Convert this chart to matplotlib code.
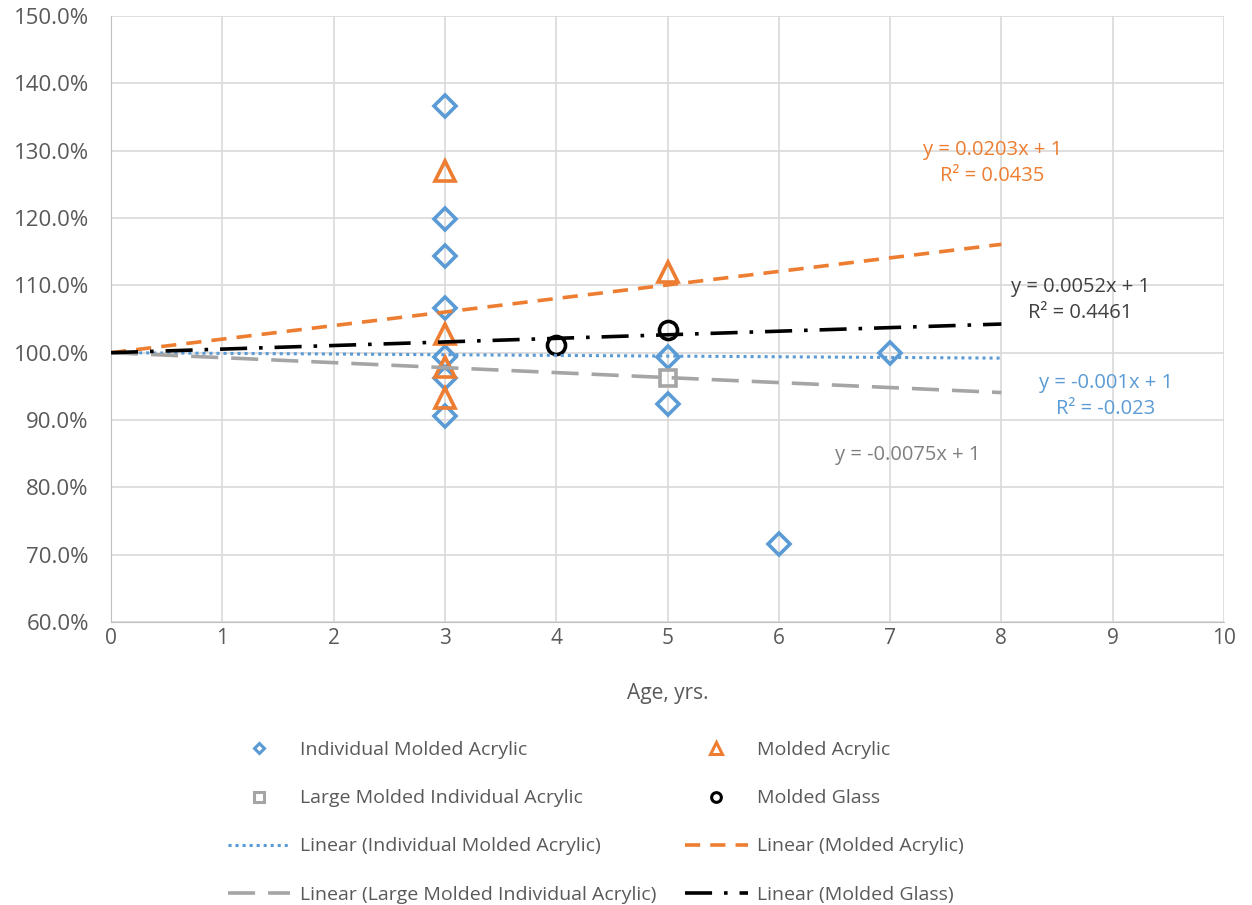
"""Relative value vs age scatter with forced-intercept linear trendlines."""
import numpy as np
import matplotlib
matplotlib.use("Agg")
import matplotlib.pyplot as plt
from matplotlib.lines import Line2D
from matplotlib.ticker import PercentFormatter

plt.rcParams["font.family"] = ["Open Sans", "DejaVu Sans"]

# Data (age in years, value as fraction of original)
ima_age = [3, 3, 3, 3, 3, 3, 3, 5, 5, 6, 7]
ima_val = [1.367, 1.199, 1.143, 1.066, 0.994, 0.963, 0.906, 0.994, 0.924, 0.716, 1.000]

ma_age = [3, 3, 3, 3, 5]
ma_val = [1.270, 1.027, 0.979, 0.933, 1.120]

lmia_age = [5]
lmia_val = [0.963]

mg_age = [4, 5]
mg_val = [1.012, 1.034]

trend_x = [0, 8]

TEXT = "#595959"
BLUE = "#5B9BD5"
ORANGE = "#ED7D31"
GRAY = "#A5A5A5"
BLACK = "#000000"

STY_BLUE = (0, (1, 1.3))
STY_ORANGE = (0, (4.2, 2.8))
STY_GRAY = (0, (7.5, 3.6))
STY_BLACK = (0, (7.5, 3.3, 1, 3.3))


def slope_fixed_intercept(x, y, b=1.0):
    """Least squares slope with the intercept held at b (Excel 'set intercept')."""
    x = np.asarray(x, float)
    y = np.asarray(y, float)
    return np.sum(x * (y - b)) / np.sum(x * x)


fig = plt.figure(figsize=(12.52, 9.05), dpi=100)
ax = fig.add_axes([0.0887, 0.3127, 0.8889, 0.6696])

# Markers
ax.plot(ima_age, ima_val, "D", ms=11, mfc="none", mec=BLUE, mew=2.6, zorder=3)
ax.plot(ma_age, ma_val, "^", ms=14, mfc="none", mec=ORANGE, mew=2.6, zorder=3)
ax.plot(lmia_age, lmia_val, "s", ms=11, mfc="none", mec=GRAY, mew=2.6, zorder=3)
ax.plot(mg_age, mg_val, "o", ms=13, mfc="none", mec=BLACK, mew=2.6, zorder=3)

# Trendlines (intercept fixed at 1)
tx = np.array(trend_x, float)
ax.plot(tx, 1 + slope_fixed_intercept(ima_age, ima_val) * tx, color=BLUE, lw=2.2,
        linestyle=STY_BLUE, zorder=4)
ax.plot(tx, 1 + slope_fixed_intercept(ma_age, ma_val) * tx, color=ORANGE, lw=2.6,
        linestyle=STY_ORANGE, zorder=4)
ax.plot(tx, 1 + slope_fixed_intercept(lmia_age, lmia_val) * tx, color=GRAY, lw=2.6,
        linestyle=STY_GRAY, zorder=4)
ax.plot(tx, 1 + slope_fixed_intercept(mg_age, mg_val) * tx, color=BLACK, lw=2.6,
        linestyle=STY_BLACK, zorder=4)

# Trendline labels
ax.text(7.92, 1.2816, "y = 0.0203x + 1\nR² = 0.0435", color=ORANGE, fontsize=14.5,
        ha="center", va="center", linespacing=1.4)
ax.text(8.71, 1.0788, "y = 0.0052x + 1\nR² = 0.4461", color="#404040", fontsize=14.5,
        ha="center", va="center", linespacing=1.4)
ax.text(8.94, 0.9354, "y = -0.001x + 1\nR² = -0.023", color=BLUE, fontsize=14.5,
        ha="center", va="center", linespacing=1.4)
ax.text(7.16, 0.848, "y = -0.0075x + 1", color="#7F7F7F", fontsize=14.5,
        ha="center", va="center")

ax.set_xlim(0, 10)
ax.set_ylim(0.6, 1.5)
ax.set_xticks(range(0, 11))
ax.set_yticks(np.arange(0.6, 1.501, 0.1))
ax.yaxis.set_major_formatter(PercentFormatter(1.0, decimals=1))
ax.grid(True, color="#D9D9D9", lw=1.2, zorder=0)
ax.set_axisbelow(True)
for side in ["top", "right"]:
    ax.spines[side].set_visible(False)
for side in ["left", "bottom"]:
    ax.spines[side].set_color("#BFBFBF")
ax.tick_params(length=0, colors=TEXT)
ax.tick_params(axis="x", labelsize=15, pad=4)
ax.tick_params(axis="y", labelsize=16, pad=16)
ax.set_xlabel("Age, yrs.", fontsize=15, color=TEXT, labelpad=25)

# Legend, filled row by row like Excel (matplotlib fills columns first)
mk = dict(linestyle="none", mfc="none", mew=2.2)
col1 = [
    (Line2D([], [], marker="D", ms=5.5, mec=BLUE, **mk), "Individual Molded Acrylic"),
    (Line2D([], [], marker="s", ms=7, mec=GRAY, **mk), "Large Molded Individual Acrylic"),
    (Line2D([], [], color=BLUE, lw=2.2, linestyle=STY_BLUE), "Linear (Individual Molded Acrylic)"),
    (Line2D([], [], color=GRAY, lw=2.6, linestyle=STY_GRAY), "Linear (Large Molded Individual Acrylic)"),
]
col2 = [
    (Line2D([], [], marker="^", ms=8, mec=ORANGE, **mk), "Molded Acrylic"),
    (Line2D([], [], marker="o", ms=7, mec=BLACK, **mk), "Molded Glass"),
    (Line2D([], [], color=ORANGE, lw=2.6, linestyle=STY_ORANGE), "Linear (Molded Acrylic)"),
    (Line2D([], [], color=BLACK, lw=2.6, linestyle=STY_BLACK), "Linear (Molded Glass)"),
]
entries = col1 + col2
fig.legend([h for h, _ in entries], [t for _, t in entries], ncol=2, loc="upper left",
           bbox_to_anchor=(0.182, 0.181), frameon=False, fontsize=14,
           labelcolor=TEXT, handlelength=3.2, handletextpad=0.5,
           columnspacing=1.5, labelspacing=1.55, borderpad=0, borderaxespad=0)

fig.savefig("out.png", dpi=100)
